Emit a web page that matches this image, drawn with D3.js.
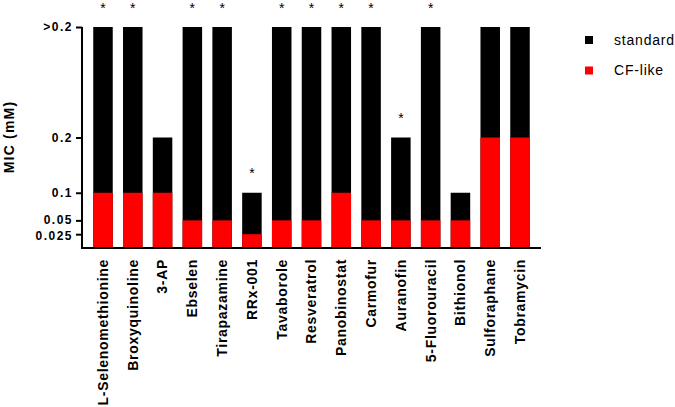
<!DOCTYPE html>
<html>
<head>
<meta charset="utf-8">
<script src="https://d3js.org/d3.v7.min.js"></script>
<style>
  body { margin: 0; background: #fff; }
  text { font-family: Arial, "Liberation Sans", sans-serif; }
</style>
</head>
<body>
<svg id="chart" width="675" height="407"></svg>
<script>
// drug names along the x axis
var drugs = ["L-Selenomethionine", "Broxyquinoline", "3-AP", "Ebselen", "Tirapazamine",
  "RRx-001", "Tavaborole", "Resveratrol", "Panobinostat", "Carmofur", "Auranofin",
  "5-Fluorouracil", "Bithionol", "Sulforaphane", "Tobramycin"];
// MIC values in mM, ">0.2" is plotted as 0.4
var standard = [0.4, 0.4, 0.2, 0.4, 0.4, 0.1, 0.4, 0.4, 0.4, 0.4, 0.2, 0.4, 0.1, 0.4, 0.4];
var cfLike = [0.1, 0.1, 0.1, 0.05, 0.05, 0.025, 0.05, 0.05, 0.1, 0.05, 0.05, 0.05, 0.05, 0.2, 0.2];
var significant = [1, 1, 0, 1, 1, 1, 1, 1, 1, 1, 1, 1, 0, 0, 0];
var yTicks = [0.025, 0.05, 0.1, 0.2, 0.4];
var yTickLabels = ["0.025", "0.05", "0.1", "0.2", ">0.2"];
var seriesNames = ["standard", "CF-like"];
var seriesColors = ["#000000", "#ff0000"];

var svg = d3.select("#chart");

var x = d3.scaleBand()
  .domain(drugs)
  .range([82, 541])
  .paddingInner(0.345)
  .paddingOuter(0.377);

var y = d3.scaleLinear()
  .domain([0, 0.4])
  .range([248, 27]);

var bars = svg.append("g");
bars.selectAll("rect.std")
  .data(drugs)
  .enter()
  .append("rect")
  .attr("class", "std")
  .attr("x", function(d){ return x(d); })
  .attr("width", x.bandwidth())
  .attr("y", function(d, i){ return y(standard[i]); })
  .attr("height", function(d, i){ return y(0) - y(standard[i]); })
  .attr("fill", seriesColors[0]);

bars.selectAll("rect.cf")
  .data(drugs)
  .enter()
  .append("rect")
  .attr("class", "cf")
  .attr("x", function(d){ return x(d); })
  .attr("width", x.bandwidth())
  .attr("y", function(d, i){ return y(cfLike[i]); })
  .attr("height", function(d, i){ return y(0) - y(cfLike[i]); })
  .attr("fill", seriesColors[1]);

// asterisks over significant pairs
svg.append("g").selectAll("text")
  .data(drugs.filter(function(d, i){ return significant[i]; }))
  .enter()
  .append("text")
  .attr("x", function(d){ return x(d) + x.bandwidth() / 2; })
  .attr("y", function(d){ return y(standard[drugs.indexOf(d)]) - 14.5; })
  .attr("text-anchor", "middle")
  .attr("font-size", "14px")
  .text("*");

// y axis
var yAxis = d3.axisLeft(y)
  .tickValues(yTicks)
  .tickFormat(function(d, i){ return yTickLabels[i]; })
  .tickSize(6)
  .tickSizeOuter(0)
  .tickPadding(3);
var gy = svg.append("g")
  .attr("transform", "translate(82,0)")
  .call(yAxis);
gy.select(".domain").attr("stroke-width", 2).attr("d", "M0," + y(0.4) + "V" + (y(0) + 1));
gy.selectAll(".tick line").attr("stroke-width", 2);
gy.selectAll(".tick text")
  .attr("font-size", "12px")
  .attr("font-weight", "bold")
  .attr("letter-spacing", "1.5px")
  .attr("fill", "#000")
  .attr("dy", function(d){ return d === 0.025 ? "0.4em" : (d === 0.05 ? "0.28em" : "0.32em"); })
  .style("font-family", "Arial, 'Liberation Sans', sans-serif");

// x axis
var xAxis = d3.axisBottom(x).tickSize(0).tickPadding(0);
var gx = svg.append("g")
  .attr("transform", "translate(0," + y(0) + ")")
  .call(xAxis);
gx.select(".domain").attr("stroke-width", 2).attr("d", "M81,0H541");
gx.selectAll(".tick text")
  .attr("transform", "rotate(-90)")
  .attr("text-anchor", "end")
  .attr("x", -11)
  .attr("y", 0)
  .attr("dy", "0.35em")
  .attr("font-size", "14px")
  .attr("font-weight", "bold")
  .attr("letter-spacing", "0.7px")
  .attr("fill", "#000")
  .style("font-family", "Arial, 'Liberation Sans', sans-serif");

// y title
svg.append("text")
  .attr("transform", "translate(14," + 137 + ") rotate(-90)")
  .attr("text-anchor", "middle")
  .attr("font-size", "14px")
  .attr("font-weight", "bold")
  .attr("letter-spacing", "1.2px")
  .text("MIC (mM)");

// legend
var legend = svg.append("g").attr("transform", "translate(585,36)");
var item = legend.selectAll("g")
  .data(seriesNames)
  .enter()
  .append("g")
  .attr("transform", function(d, i){ return "translate(0," + (i * 30.5) + ")"; });
item.append("rect")
  .attr("width", 8)
  .attr("height", 8)
  .attr("fill", function(d, i){ return seriesColors[i]; });
item.append("text")
  .attr("x", 29)
  .attr("y", 4)
  .attr("dy", "0.35em")
  .attr("font-size", "14px")
  .attr("letter-spacing", "0.8px")
  .text(function(d){ return d; });
</script>
</body>
</html>
